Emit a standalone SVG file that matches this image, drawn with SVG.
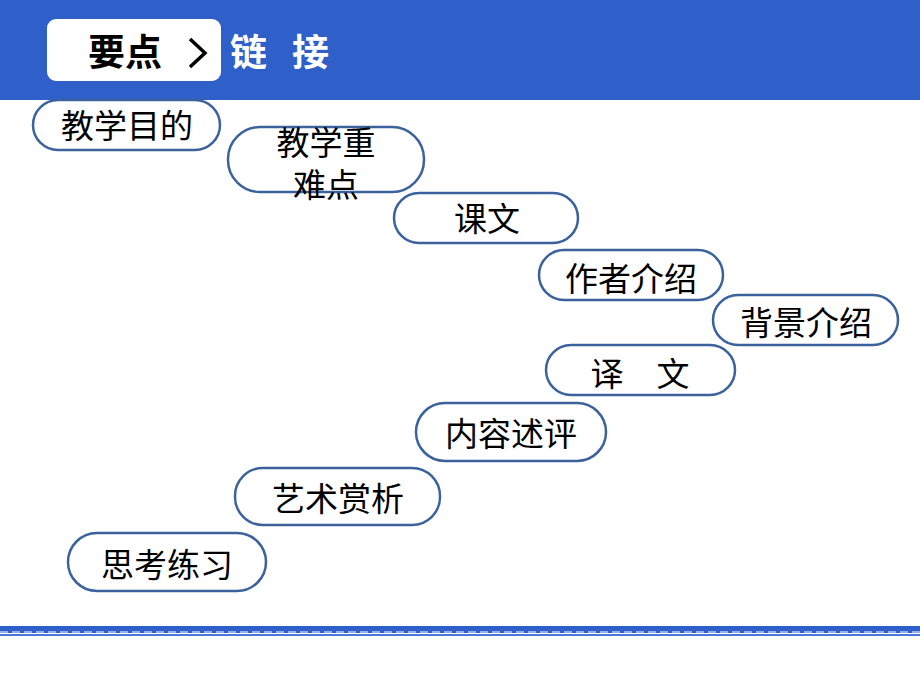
<svg xmlns="http://www.w3.org/2000/svg" width="920" height="690" viewBox="0 0 920 690">
<defs>
<style>
.pill{fill:#fff;stroke:#3B629C;stroke-width:2.5}
.t{font-family:"Noto Sans CJK SC","Liberation Serif",serif;font-size:33px;fill:#000;text-anchor:middle}
.h{font-family:"Noto Sans CJK SC",sans-serif;font-size:37px;font-weight:bold}
</style>
</defs>
<rect x="0" y="0" width="920" height="677" fill="#fff"/>
<g id="header">
<rect x="0" y="0" width="920" height="100" fill="#2F5FC8"/>
<rect x="47" y="19" width="174" height="62" rx="9" fill="#fff"/>
<text class="h" x="125" y="66" text-anchor="middle" fill="#000">要点</text>
<path d="M190 39 L205 53 L190 67" fill="none" stroke="#000" stroke-width="3.5"/>
<text class="h" x="230" y="66" fill="#fff">链</text>
<text class="h" x="292" y="66" fill="#fff">接</text>
</g>
<g id="footer">
<rect x="0" y="626" width="920" height="7" fill="#2F5FC8"/>
<line x1="0" y1="632" x2="920" y2="632" stroke="#fff" stroke-width="1.2" stroke-dasharray="8 4"/>
<rect x="0" y="634" width="920" height="2" fill="#4A78D8"/>
</g>
<g id="connectors"></g>
<g id="n1"><rect class="pill" x="33" y="100" width="187" height="50" rx="25"/><text class="t" x="127" y="138">教学目的</text></g>
<g id="n2"><rect class="pill" x="228" y="127" width="196" height="65" rx="32"/><text class="t"><tspan x="326" y="155">教学重</tspan><tspan x="326" y="197">难点</tspan></text></g>
<g id="n3"><rect class="pill" x="394" y="193" width="184" height="50" rx="25"/><text class="t" x="487" y="231">课文</text></g>
<g id="n4"><rect class="pill" x="539" y="250" width="184" height="50" rx="25"/><text class="t" x="631" y="291">作者介绍</text></g>
<g id="n5"><rect class="pill" x="713" y="295" width="185" height="50" rx="25"/><text class="t" x="806" y="335">背景介绍</text></g>
<g id="n6"><rect class="pill" x="546" y="345" width="189" height="50" rx="25"/><text class="t" x="640" y="386">译　文</text></g>
<g id="n7"><rect class="pill" x="416" y="403" width="190" height="58" rx="29"/><text class="t" x="511" y="446">内容述评</text></g>
<g id="n8"><rect class="pill" x="235" y="468" width="205" height="57" rx="28"/><text class="t" x="338" y="511">艺术赏析</text></g>
<g id="n9"><rect class="pill" x="68" y="533" width="198" height="58" rx="29"/><text class="t" x="167" y="577">思考练习</text></g>
</svg>
